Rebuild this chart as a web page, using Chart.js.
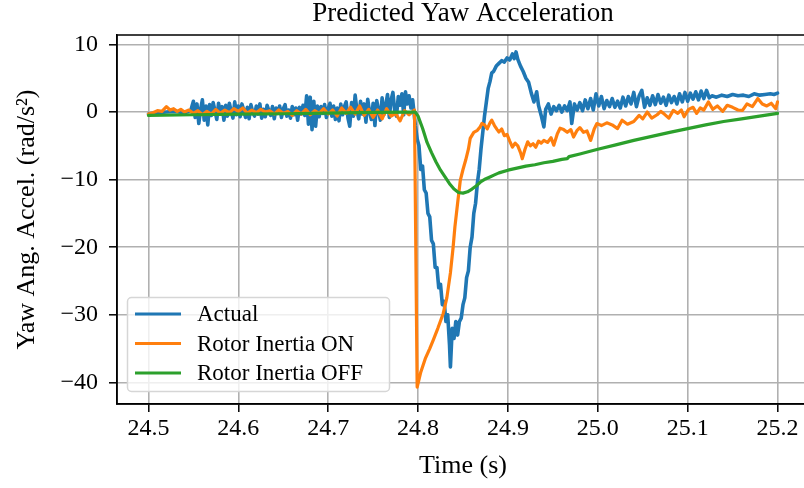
<!DOCTYPE html>
<html>
<head>
<meta charset="utf-8">
<script src="https://cdn.jsdelivr.net/npm/chart.js@4.4.1/dist/chart.umd.min.js"></script>
<style>
  html, body { margin: 0; padding: 0; background: #fff; overflow: hidden; }
  #wrap { width: 820px; height: 488px; }
</style>
</head>
<body>
<div id="wrap"><canvas id="yawChart" width="820" height="488"></canvas></div>
<script>
const FONT = "'Liberation Serif', 'DejaVu Serif', serif";

const xTicks = [24.5, 24.6, 24.7, 24.8, 24.9, 25.0, 25.1, 25.2];
const yTicks = [-40, -30, -20, -10, 0, 10];

// Actual (measured)
const actualTime = [
  24.500, 24.510, 24.520, 24.530, 24.540, 24.547,
  24.550, 24.552, 24.554, 24.556, 24.558, 24.560, 24.562, 24.564, 24.566, 24.568,
  24.570, 24.572, 24.574, 24.576, 24.578, 24.580, 24.582, 24.584, 24.586, 24.588,
  24.590, 24.592, 24.594, 24.596, 24.598, 24.600, 24.602, 24.604, 24.606, 24.608,
  24.610, 24.612, 24.614, 24.616, 24.618, 24.620, 24.622, 24.624, 24.626, 24.628,
  24.630, 24.632, 24.634, 24.636, 24.638, 24.640, 24.642, 24.644, 24.646, 24.648,
  24.650, 24.652, 24.654, 24.656, 24.658, 24.660, 24.662, 24.664, 24.666, 24.668,
  24.670, 24.672, 24.674, 24.676, 24.678, 24.680, 24.682, 24.684, 24.686, 24.688,
  24.690, 24.692, 24.694, 24.696, 24.698, 24.700, 24.702, 24.704, 24.706, 24.708,
  24.710, 24.712, 24.714, 24.716, 24.718, 24.720, 24.722, 24.724, 24.726, 24.728,
  24.730, 24.732, 24.734, 24.736, 24.738, 24.740, 24.742, 24.744, 24.746, 24.748,
  24.750, 24.752, 24.754, 24.756, 24.758, 24.760, 24.762, 24.764, 24.766, 24.768,
  24.770, 24.772, 24.774, 24.776, 24.778, 24.780, 24.782, 24.784, 24.786, 24.788,
  24.790, 24.792, 24.794,
  24.797, 24.799, 24.801, 24.803, 24.805, 24.807, 24.809, 24.811, 24.813, 24.815,
  24.817, 24.819, 24.821, 24.823, 24.825, 24.827, 24.829, 24.831, 24.833, 24.835,
  24.836, 24.838, 24.840, 24.842, 24.844, 24.846, 24.848, 24.850, 24.852, 24.854,
  24.856, 24.858, 24.860, 24.862, 24.864, 24.866, 24.868, 24.870, 24.872, 24.874,
  24.876, 24.878, 24.880, 24.882, 24.884,
  24.887, 24.890, 24.893, 24.896, 24.899,
  24.902, 24.905, 24.907, 24.909, 24.911, 24.914, 24.917, 24.920, 24.923, 24.926,
  24.929, 24.932, 24.934, 24.937, 24.940, 24.942, 24.945, 24.948, 24.951, 24.954,
  24.957, 24.960, 24.963, 24.966, 24.969, 24.971, 24.974, 24.977, 24.980, 24.983,
  24.986, 24.989, 24.992, 24.995, 24.998, 25.001, 25.004, 25.007, 25.010, 25.013,
  25.016, 25.019, 25.022, 25.025, 25.028, 25.031, 25.034, 25.037, 25.040, 25.043,
  25.046, 25.049, 25.052, 25.055, 25.058, 25.061, 25.064, 25.067, 25.070, 25.073,
  25.076, 25.079, 25.082, 25.085, 25.088, 25.091, 25.094, 25.097, 25.100, 25.103,
  25.106, 25.109, 25.112, 25.115, 25.118, 25.121, 25.124, 25.127, 25.132, 25.138,
  25.144, 25.150, 25.156, 25.162, 25.168, 25.174, 25.180, 25.186, 25.192, 25.196,
  25.200
];
const actualValue = [
  -0.3, -0.1, 0.0, 0.1, -0.1, 0.2,
  1.6, -0.8, 1.2, -1.7, 0.4, 1.8, -1.2, 0.9, -1.9, 1.1,
  -0.5, 1.4, 0.2, -1.1, 1.3, -0.3, 0.8, -1.2, 1.0, -0.6,
  1.3, 0.1, -0.9, 1.5, -0.4, 0.9, -0.7, 1.2, 0.3, -0.8,
  0.7, -1.0, 1.1, 0.0, -0.6, 0.9, -0.3, 1.2, -0.9, 0.4,
  -0.7, 1.0, 0.2, -0.5, 0.8, -1.0, 0.6, -0.2, 0.9, -0.8,
  0.5, 1.1, -0.6, 0.3, -0.9, 0.8, -0.4, 0.6, -1.2, 0.7,
  -0.3, 1.0, -0.5, 2.4, -1.8, 2.2, -2.6, 1.6, -2.1, 0.9,
  -0.7, 0.8, -0.2, 1.1, -0.8, 0.5, 1.3, -0.6, 0.9, -1.1,
  0.6, -1.3, 1.2, -0.4, 0.8, 1.5, -0.9, -2.1, 1.4, -0.6,
  2.5, 0.2, -1.0, 1.6, -0.3, 1.2, -1.5, 1.9, 0.0, -1.1,
  1.3, -2.0, 1.7, 0.3, -1.2, 2.1, -0.4, 1.0, 2.6, -0.8,
  1.8, 2.9, 0.2, -0.6, 2.3, 1.0, 2.7, -0.4, 3.0, 1.2,
  2.4, 0.6, 1.8,
  -2.0, -4.0, -5.0, -8.5, -8.0, -11.5, -12.0, -15.0, -15.5, -19.0,
  -19.5, -23.0, -23.0, -26.0, -25.5, -28.5, -28.0, -31.0, -30.0, -34.5,
  -37.7, -32.0, -33.5, -31.0, -33.0, -31.0, -30.5, -28.5, -27.5, -24.5,
  -23.5, -20.0, -18.5, -15.0, -13.5, -10.5, -8.5, -5.5, -3.0, -0.5,
  1.5, 3.5, 4.5, 5.8, 6.0,
  6.8, 7.2, 7.6, 7.4, 8.0,
  7.7, 8.6, 7.9, 8.9, 7.8, 6.8, 6.0, 5.0, 4.4, 2.8,
  1.5, 3.0, 1.0, -0.5, -2.2, 0.4, 1.2, -0.3, 0.8, 0.2,
  1.0, 0.0, 0.9, 0.2, 1.5, -1.7, 1.2, 0.3, 1.4, 0.2,
  1.8, 0.5, 2.0, 0.3, 2.7, 0.9, 2.3, 0.5, 1.7, 0.8,
  2.0, 0.7, 1.6, 0.6, 2.2, 0.9, 2.3, 1.2, 2.9, 0.8,
  2.4, 3.2, 0.7, 2.1, 1.0, 2.4, 1.1, 2.6, 1.3, 2.2,
  1.0, 2.5, 1.4, 2.3, 1.2, 2.7, 1.5, 2.9, 1.6, 2.8,
  1.9, 3.0, 1.8, 3.1, 2.0, 3.2, 2.1, 2.4, 2.2, 2.5,
  2.3, 2.6, 2.4, 2.5, 2.3, 2.7, 2.5, 2.6, 2.7, 2.6,
  2.8
];

// Rotor Inertia ON
const inertiaOnTime = [
  24.500, 24.505, 24.510, 24.515, 24.520, 24.524, 24.528, 24.532, 24.536, 24.540,
  24.545, 24.550, 24.555, 24.560, 24.565, 24.570, 24.575, 24.580, 24.585, 24.590,
  24.595, 24.600, 24.605, 24.610, 24.615, 24.620, 24.625, 24.630, 24.635, 24.640,
  24.645, 24.650, 24.655, 24.660, 24.665, 24.670, 24.675, 24.680, 24.685, 24.690,
  24.695, 24.700, 24.705, 24.710, 24.715, 24.720, 24.725, 24.730, 24.735, 24.740,
  24.745, 24.750, 24.755, 24.760, 24.765, 24.770, 24.775, 24.780, 24.785, 24.790,
  24.796, 24.799, 24.803, 24.808, 24.813, 24.817, 24.822, 24.828, 24.832, 24.836,
  24.839, 24.841, 24.844, 24.847, 24.850, 24.853, 24.856, 24.858, 24.862, 24.866,
  24.869, 24.871, 24.874, 24.877, 24.880, 24.882, 24.885, 24.888, 24.890, 24.893,
  24.896, 24.899, 24.902, 24.905, 24.908, 24.911, 24.914, 24.916, 24.919, 24.922,
  24.925, 24.928, 24.931, 24.934, 24.937, 24.940, 24.944, 24.948, 24.951, 24.955,
  24.958, 24.962, 24.966, 24.970, 24.973, 24.977, 24.980, 24.984, 24.988, 24.992,
  24.996, 24.999, 25.004, 25.010, 25.016, 25.022, 25.027, 25.033, 25.040, 25.046,
  25.050, 25.055, 25.060, 25.066, 25.070, 25.074, 25.079, 25.084, 25.089, 25.093,
  25.096, 25.101, 25.106, 25.110, 25.114, 25.118, 25.123, 25.128, 25.133, 25.139,
  25.144, 25.150, 25.156, 25.161, 25.166, 25.172, 25.178, 25.183, 25.188, 25.193,
  25.198, 25.200
];
const inertiaOnValue = [
  -0.3, -0.1, 0.2, 0.1, 0.8, 0.3, 0.5, 0.1, 0.4, 0.0,
  0.3, -0.2, 0.2, -0.4, 0.1, -0.3, 0.4, -0.2, 0.3, -0.1,
  0.5, 0.1, 0.6, -0.2, 0.3, -0.1, 0.4, 0.0, 0.2, -0.3,
  0.3, -0.2, 0.1, -0.5, 0.2, -0.3, 0.4, -0.4, 0.2, -0.2,
  0.5, -0.3, 0.3, -0.6, 0.6, -0.2, 0.7, -0.3, 0.9, -0.5,
  0.4, -0.8, 0.3, -1.0, 0.5, -0.6, -0.2, -1.3, 0.2, -0.4,
  0.3, -40.7, -38.5, -36.5, -35.0, -33.7, -32.0, -29.8, -27.5, -23.8,
  -20.0, -17.0, -13.5, -10.1, -8.5, -7.1, -5.5, -3.9, -3.0, -2.7,
  -2.2, -1.7, -1.9, -2.5, -1.6, -1.2, -2.0, -2.6, -2.95, -2.5,
  -3.5, -3.3, -4.3, -5.2, -4.6, -5.0, -6.0, -6.9, -5.5, -4.4,
  -5.0, -4.7, -5.2, -4.3, -4.6, -4.2, -4.5, -3.8, -4.9, -3.2,
  -2.4, -2.6, -3.0, -2.6, -3.7, -2.7, -2.3, -3.0, -2.8, -4.2,
  -2.5, -1.7, -2.0, -1.6, -1.9, -2.45, -1.2, -1.8, -1.4, -0.5,
  -1.0, 0.0, -0.9, -0.4, 0.1, -0.3, -0.9, 0.25, -0.2, 0.3,
  -0.7, 0.4, 0.7, -0.2, 0.6, 0.3, 1.5, 0.4, 0.9, 0.1,
  1.0, 0.7, 0.3, 0.25, 1.2, 0.8, 2.0, 1.2, 0.9, 1.3,
  0.5, 1.5
];

// Rotor Inertia OFF
const inertiaOffTime = [
  24.500, 24.550, 24.600, 24.650, 24.700, 24.750, 24.790, 24.797, 24.800, 24.805,
  24.810, 24.815, 24.820, 24.825, 24.830, 24.835, 24.840, 24.845, 24.850, 24.855,
  24.860, 24.865, 24.870, 24.875, 24.880, 24.885, 24.890, 24.900, 24.910, 24.920,
  24.930, 24.940, 24.950, 24.960, 24.966, 24.968, 24.980, 25.000, 25.020, 25.040,
  25.060, 25.080, 25.100, 25.120, 25.140, 25.160, 25.180, 25.200
];
const inertiaOffValue = [
  -0.5, -0.4, -0.3, -0.25, -0.15, -0.05, 0.0, 0.0, -0.6, -2.4,
  -4.5, -6.0, -7.4, -8.6, -9.6, -10.6, -11.4, -11.9, -12.0, -11.8,
  -11.4, -10.9, -10.3, -9.9, -9.6, -9.3, -9.0, -8.6, -8.3, -8.0,
  -7.8, -7.5, -7.3, -7.0, -6.9, -6.6, -6.2, -5.5, -4.85, -4.2,
  -3.6, -3.0, -2.45, -1.9, -1.4, -1.0, -0.6, -0.2
];

const toPoints = (ts, vs) => ts.map((t, i) => ({ x: t, y: vs[i] }));

// legend box drawn inside the plot, lower left, plus the closed axes frame
const legendBox = {
  id: 'legendBox',
  afterDatasetsDraw(chart) {
    const ctx = chart.ctx;
    const x0 = 127.5, y0 = 297.5, w = 262, h = 94, r = 4;
    ctx.save();
    ctx.beginPath();
    ctx.moveTo(x0 + r, y0);
    ctx.arcTo(x0 + w, y0, x0 + w, y0 + h, r);
    ctx.arcTo(x0 + w, y0 + h, x0, y0 + h, r);
    ctx.arcTo(x0, y0 + h, x0, y0, r);
    ctx.arcTo(x0, y0, x0 + w, y0, r);
    ctx.closePath();
    ctx.fillStyle = 'rgba(255,255,255,0.8)';
    ctx.fill();
    ctx.strokeStyle = '#d6d6d6';
    ctx.lineWidth = 1.5;
    ctx.stroke();
    ctx.font = '23px ' + FONT;
    ctx.textBaseline = 'middle';
    ctx.fillStyle = '#000';
    chart.data.datasets.forEach((ds, i) => {
      const yy = 314 + i * 29.5;
      ctx.strokeStyle = ds.borderColor;
      ctx.lineWidth = 3.2;
      ctx.beginPath();
      ctx.moveTo(135, yy);
      ctx.lineTo(181, yy);
      ctx.stroke();
      ctx.fillText(ds.label, 197, yy + 1);
    });
    ctx.restore();
  },
  afterDraw(chart) {
    const a = chart.chartArea;
    const ctx = chart.ctx;
    ctx.save();
    ctx.strokeStyle = '#000';
    ctx.lineWidth = 1.5;
    ctx.strokeRect(a.left, a.top, a.right - a.left, a.bottom - a.top);
    ctx.restore();
  }
};

const chart = new Chart(document.getElementById('yawChart').getContext('2d'), {
  type: 'line',
  data: {
    datasets: [{
      label: 'Actual',
      data: toPoints(actualTime, actualValue),
      borderColor: '#1f77b4',
      borderWidth: 3.6,
      order: 3
    }, {
      label: 'Rotor Inertia ON',
      data: toPoints(inertiaOnTime, inertiaOnValue),
      borderColor: '#ff7f0e',
      borderWidth: 3.2,
      order: 2
    }, {
      label: 'Rotor Inertia OFF',
      data: toPoints(inertiaOffTime, inertiaOffValue),
      borderColor: '#2ca02c',
      borderWidth: 3.2,
      order: 1
    }]
  },
  options: {
    responsive: false,
    animation: false,
    devicePixelRatio: 1,
    parsing: false,
    elements: { point: { radius: 0 }, line: { tension: 0, borderJoinStyle: 'round', borderCapStyle: 'round' } },
    layout: { padding: { left: 0, right: 11, top: 0, bottom: 0 } },
    plugins: {
      legend: { display: false },
      tooltip: { enabled: false },
      title: {
        display: true,
        fullSize: false,
        text: 'Predicted Yaw Acceleration',
        color: '#000',
        font: { family: FONT, size: 27, weight: 'normal', lineHeight: 1.0 },
        padding: { top: 0, bottom: 8 }
      }
    },
    scales: {
      x: {
        type: 'linear',
        min: 24.465,
        max: 25.235,
        afterBuildTicks: (s) => { s.ticks = xTicks.map(v => ({ value: v })); },
        afterFit: (s) => { s.height = 84; },
        ticks: {
          callback: (v) => v.toFixed(1),
          color: '#000',
          font: { family: FONT, size: 24 },
          padding: 2,
          maxRotation: 0,
          autoSkip: false
        },
        grid: { color: '#b0b0b0', lineWidth: 1.6, tickColor: '#000', tickLength: 8, tickWidth: 1.5 },
        border: { display: true, color: '#000', width: 1.5 },
        title: {
          display: true,
          text: 'Time (s)',
          color: '#000',
          font: { family: FONT, size: 26 },
          padding: { top: 0, bottom: 6 }
        }
      },
      y: {
        type: 'linear',
        min: -43.2,
        max: 11.4,
        afterBuildTicks: (s) => { s.ticks = yTicks.map(v => ({ value: v })); },
        afterFit: (s) => { s.width = 117; },
        ticks: {
          callback: (v) => (v < 0 ? '\u2212' + Math.abs(v) : String(v)),
          color: '#000',
          font: { family: FONT, size: 24 },
          padding: 11
        },
        grid: { color: '#b0b0b0', lineWidth: 1.6, tickColor: '#000', tickLength: 8, tickWidth: 1.5 },
        border: { display: true, color: '#000', width: 1.5 },
        title: {
          display: true,
          text: 'Yaw Ang. Accel. (rad/s\u00B2)',
          color: '#000',
          font: { family: FONT, size: 26 },
          padding: { top: 12, bottom: 0 }
        }
      }
    }
  },
  plugins: [legendBox]
});
</script>
</body>
</html>
